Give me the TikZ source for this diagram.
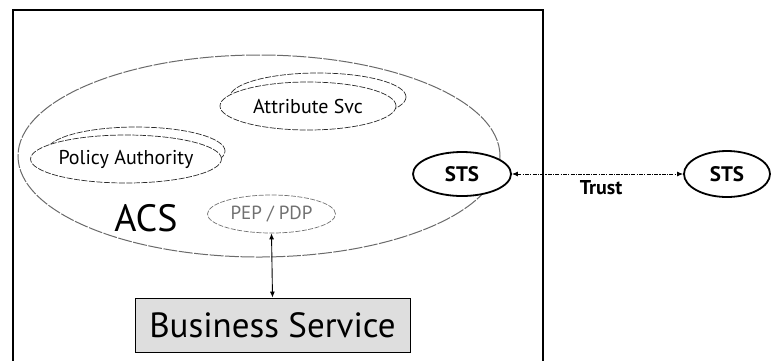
\documentclass[tikz,border=0pt]{standalone}
\usepackage{fontspec}
\setmainfont{PT Sans}
\usetikzlibrary{shapes.geometric,arrows.meta}
\definecolor{acsgray}{HTML}{6A6A6A}
\definecolor{svcgray}{HTML}{2A2A2A}
\definecolor{pepgray}{HTML}{707070}
\definecolor{boxfill}{HTML}{DEDEDE}
\tikzset{
  frame/.style={line width=1.4pt, black},
  acs/.style={ellipse, draw=acsgray, line width=1pt, inner sep=0pt, dash pattern=on 14pt off 1.5pt},
  svc/.style={ellipse, draw=svcgray, fill=white, line width=0.7pt, inner sep=0pt, dash pattern=on 6pt off 1.5pt, font=\fontsize{20}{22}\selectfont},
  svcback/.style={ellipse, draw=svcgray, fill=white, line width=0.7pt, inner sep=0pt, dash pattern=on 6pt off 1.5pt},
  pep/.style={ellipse, draw=pepgray, line width=0.7pt, inner sep=0pt, dash pattern=on 5pt off 1.5pt, text=pepgray, font=\fontsize{19}{21}\selectfont},
  sts/.style={ellipse, draw=black, fill=white, line width=1.8pt, inner sep=0pt, font=\fontsize{21}{23}\selectfont\bfseries},
  bizbox/.style={rectangle, draw=black, fill=boxfill, line width=0.9pt, inner sep=0pt, font=\fontsize{35}{38}\selectfont},
  twoway/.style={{Latex[length=6pt,width=5pt]}-{Latex[length=6pt,width=5pt]}, line width=0.9pt},
  trustline/.style={twoway, dash pattern=on 4pt off 1.2pt on 1.2pt off 1.2pt}
}
\begin{document}
\begin{tikzpicture}[x=1pt,y=-1pt]
\useasboundingbox (0,0) rectangle (775,360);
% outer frame
\draw[frame] (13,362) -- (13,10) -- (543,10) -- (543,362);
% ACS ellipse
\node[acs, minimum width=482pt, minimum height=202pt] (acsell) at (259,156) {};
\node[font=\fontsize{38}{40}\selectfont] (acslbl) at (146,218) {ACS};
% Attribute Svc
\node[svcback, minimum width=176pt, minimum height=48pt] (attrback) at (318,97) {};
\node[svc, minimum width=176pt, minimum height=48pt] (attr) at (308,106) {Attribute Svc};
% Policy Authority
\node[svcback, minimum width=178pt, minimum height=48pt] (polback) at (136,151) {};
\node[svc, minimum width=178pt, minimum height=48pt] (pol) at (126,159) {Policy Authority};
% PEP / PDP
\node[pep, minimum width=128pt, minimum height=38pt] (pep) at (271.5,214) {PEP / PDP};
% STS nodes
\node[sts, minimum width=98pt, minimum height=44pt] (stsl) at (462,174) {STS};
\node[sts, minimum width=86pt, minimum height=46pt] (stsr) at (727,174) {STS};
% Business Service
\node[bizbox, minimum width=275pt, minimum height=54pt] (biz) at (272.5,325) {Business Service};
% connectors
\draw[twoway] (pep.south) -- (biz.north);
\draw[trustline] (stsl.east) -- (stsr.west);
\node[font=\fontsize{20}{22}\selectfont\bfseries] (trust) at (601,188) {Trust};
\end{tikzpicture}
\end{document}
